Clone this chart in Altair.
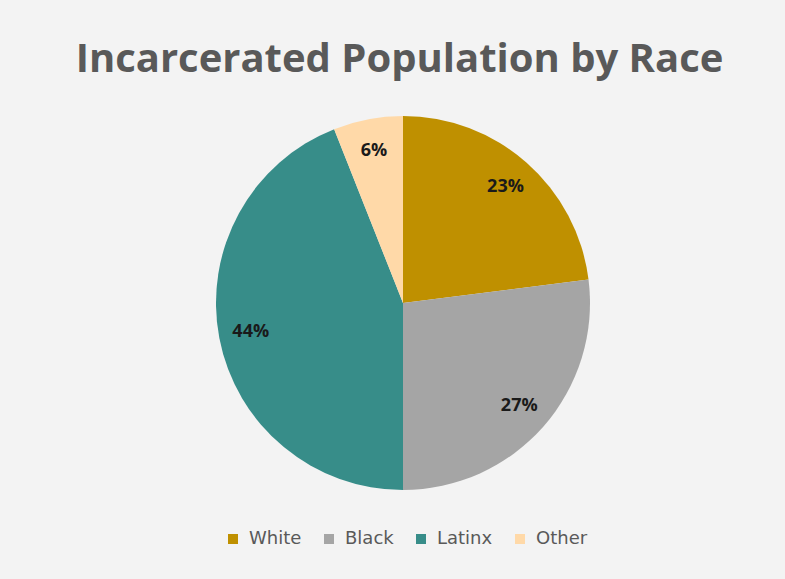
import altair as alt
import pandas as pd

categories = ["White", "Black", "Latinx", "Other"]
shares = [23, 27, 44, 6]
labels = ["23%", "27%", "44%", "6%"]
colors = ["#BF9000", "#A5A5A5", "#378D89", "#FFD9A8"]

df = pd.DataFrame({"race": categories, "share": shares, "label": labels,
                   "order": list(range(len(categories)))})

base = alt.Chart(df).encode(
    theta=alt.Theta("share:Q", stack=True),
    order=alt.Order("order:Q"),
)

pie = base.mark_arc(outerRadius=187, stroke=None).encode(
    x=alt.value(403),
    y=alt.value(213),
    color=alt.Color(
        "race:N",
        scale=alt.Scale(domain=categories, range=colors),
        sort=categories,
        legend=alt.Legend(
            title=None, orient="none", direction="horizontal",
            legendX=224, legendY=440,
            symbolType="square", symbolSize=100, symbolStrokeWidth=0,
            labelFont="DejaVu Sans", labelFontSize=18, labelColor="#595959",
            columnPadding=18, labelOffset=7,
        ),
    ),
)

text = base.mark_text(radius=155, font="Open Sans", fontSize=18,
                      fontWeight="bold", color="#1a1a1a").encode(
    x=alt.value(403),
    y=alt.value(213),
    text="label:N",
)

chart = alt.layer(pie, text).properties(
    width=785,
    height=489,
    padding={"left": 0, "top": 90, "right": 0, "bottom": 0},
    autosize=alt.AutoSizeParams(type="none"),
    background="#F3F3F3",
    title=alt.Title(
        "Incarcerated Population by Race",
        font="Open Sans", fontSize=40, fontWeight="bold", color="#595959",
        anchor="middle", offset=10, dx=7,
    ),
).configure_view(stroke=None)

chart.save("out.html", embed_options={"renderer": "svg", "actions": False})
